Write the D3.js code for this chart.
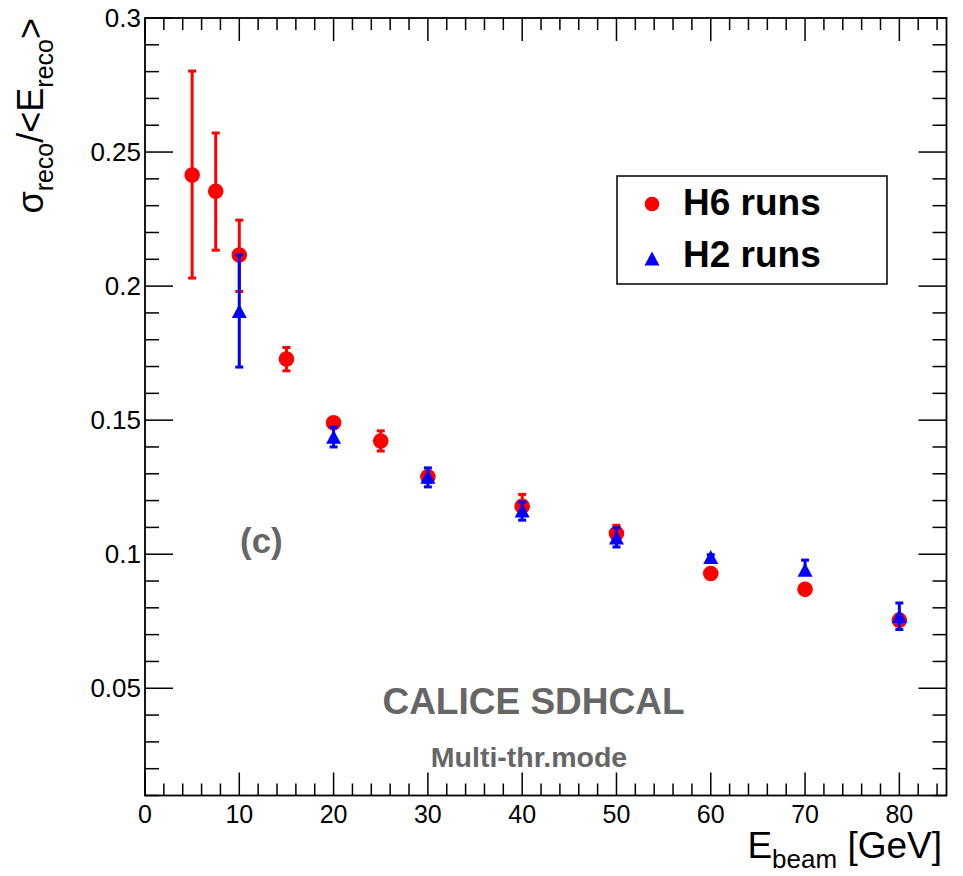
<!DOCTYPE html>
<html><head><meta charset="utf-8">
<script src="https://cdn.jsdelivr.net/npm/d3@7"></script>
<style>
html,body{margin:0;padding:0;background:#fff;}
svg{display:block;font-family:"Liberation Sans",Arial,Helvetica,sans-serif;}
</style></head>
<body>
<svg id="chart" width="963" height="876"></svg>
<script>
// ---- data ----
const h6Energy = [5, 7.5, 10, 15, 20, 25, 30, 40, 50, 60, 70, 80];
const h6Res    = [0.2414, 0.2354, 0.2116, 0.1728, 0.1490, 0.1422, 0.1289, 0.1179, 0.1077, 0.0928, 0.0869, 0.0754];
const h6ErrHi  = [0.0388, 0.0217, 0.0130, 0.0043, 0.0015, 0.0038, 0.0020, 0.0044, 0.0031, 0.0015, 0.0015, 0.0020];
const h6ErrLo  = [0.0384, 0.0220, 0.0136, 0.0044, 0.0015, 0.0037, 0.0020, 0.0020, 0.0020, 0.0015, 0.0015, 0.0020];

const h2Energy = [10, 20, 30, 40, 50, 60, 70, 80];
const h2Res    = [0.1905, 0.1436, 0.1287, 0.1161, 0.1060, 0.0988, 0.0940, 0.0768];
const h2ErrHi  = [0.0211, 0.0038, 0.0035, 0.0034, 0.0039, 0.0010, 0.0038, 0.0050];
const h2ErrLo  = [0.0207, 0.0036, 0.0036, 0.0034, 0.0033, 0.0010, 0.0015, 0.0049];

const xTicks = [0, 10, 20, 30, 40, 50, 60, 70, 80];
const yTicks = [0.05, 0.1, 0.15, 0.2, 0.25, 0.3];
const yTickLabels = ["0.05", "0.1", "0.15", "0.2", "0.25", "0.3"];

// ---- layout ----
const svg = d3.select("#chart");
const L = 145, R = 946.5, T = 18, B = 795.5;
const x = d3.scaleLinear().domain([0, 85]).range([L, R]);
const y = d3.scaleLinear().domain([0.01, 0.3]).range([B, T]);

const RED = "#ff0000", BLUE = "#0000ff", GRAY = "#666666";

// ticks
const axisG = svg.append("g").attr("stroke", "#000").attr("stroke-width", 1.5);
const xMinor = d3.range(0, 85.01, 2);
xMinor.forEach(v => {
  const major = v % 10 === 0;
  const len = major ? 23 : 12;
  axisG.append("line").attr("x1", x(v)).attr("x2", x(v)).attr("y1", B).attr("y2", B - len);
  axisG.append("line").attr("x1", x(v)).attr("x2", x(v)).attr("y1", T).attr("y2", T + len);
});
const yMinor = d3.range(1, 31).map(i => i / 100);
yMinor.forEach(v => {
  const major = Math.round(v * 100) % 5 === 0;
  const len = major ? 28 : 14;
  axisG.append("line").attr("x1", L).attr("x2", L + len).attr("y1", y(v)).attr("y2", y(v));
  axisG.append("line").attr("x1", R).attr("x2", R - len).attr("y1", y(v)).attr("y2", y(v));
});

// frame
svg.append("rect").attr("x", L).attr("y", T).attr("width", R - L).attr("height", B - T)
  .attr("fill", "none").attr("stroke", "#000").attr("stroke-width", 1.8);

// tick labels
svg.append("g").selectAll("text").data(xTicks).join("text")
  .attr("x", d => x(d)).attr("y", B + 27)
  .attr("text-anchor", "middle").attr("font-size", 25).attr("fill", "#000")
  .text(d => d);
svg.append("g").selectAll("text").data(yTicks).join("text")
  .attr("x", L - 4).attr("y", d => y(d) + 9)
  .attr("text-anchor", "end").attr("font-size", 26).attr("fill", "#000")
  .text((d, i) => yTickLabels[i]);

// axis titles
const xt = svg.append("text").attr("x", 942).attr("y", 858)
  .attr("text-anchor", "end").attr("font-size", 37).attr("fill", "#000");
xt.append("tspan").text("E");
xt.append("tspan").attr("font-size", 26).attr("dy", 10).text("beam");
xt.append("tspan").attr("dy", -10).text(" [GeV]");

const yt = svg.append("text").attr("transform", "translate(43,18) rotate(-90)")
  .attr("text-anchor", "end").attr("font-size", 36).attr("fill", "#000");
yt.append("tspan").text("σ");
yt.append("tspan").attr("font-size", 25).attr("dy", 10).text("reco");
yt.append("tspan").attr("dy", -10).text("/<E");
yt.append("tspan").attr("font-size", 25).attr("dy", 10).text("reco");
yt.append("tspan").attr("dy", -10).text(">");

// ---- series ----
function drawErrors(E, V, hi, lo, color) {
  const g = svg.append("g").attr("stroke", color).attr("stroke-width", 3);
  E.forEach((e, i) => {
    const cx = x(e), y1 = y(V[i] + hi[i]), y2 = y(V[i] - lo[i]);
    g.append("line").attr("x1", cx).attr("x2", cx).attr("y1", y1).attr("y2", y2);
    g.append("line").attr("x1", cx - 4).attr("x2", cx + 4).attr("y1", y1).attr("y2", y1);
    g.append("line").attr("x1", cx - 4).attr("x2", cx + 4).attr("y1", y2).attr("y2", y2);
  });
}
const triPath = (cx, cy) => `M${cx},${cy - 7.5}L${cx + 7.5},${cy + 6.5}L${cx - 7.5},${cy + 6.5}Z`;

drawErrors(h6Energy, h6Res, h6ErrHi, h6ErrLo, RED);
svg.append("g").selectAll("circle").data(h6Energy).join("circle")
  .attr("cx", d => x(d)).attr("cy", (d, i) => y(h6Res[i])).attr("r", 7.8).attr("fill", RED);

drawErrors(h2Energy, h2Res, h2ErrHi, h2ErrLo, BLUE);
svg.append("g").selectAll("path").data(h2Energy).join("path")
  .attr("d", (d, i) => triPath(x(d), y(h2Res[i]))).attr("fill", BLUE);

// ---- legend ----
svg.append("rect").attr("x", 617).attr("y", 176).attr("width", 270).attr("height", 108)
  .attr("fill", "#fff").attr("stroke", "#000").attr("stroke-width", 1.5);
svg.append("circle").attr("cx", 652).attr("cy", 204).attr("r", 7.3).attr("fill", RED);
svg.append("path").attr("d", triPath(652, 259)).attr("fill", BLUE);
svg.append("text").attr("x", 683).attr("y", 215).attr("font-size", 37).attr("font-weight", "bold").text("H6 runs");
svg.append("text").attr("x", 683).attr("y", 267).attr("font-size", 37).attr("font-weight", "bold").text("H2 runs");

// ---- annotations ----
svg.append("text").attr("x", 240).attr("y", 553).attr("font-size", 35).attr("font-weight", "bold")
  .attr("fill", GRAY).text("(c)");
svg.append("text").attr("x", 533.5).attr("y", 714).attr("text-anchor", "middle").attr("font-size", 37)
  .attr("font-weight", "bold").attr("fill", GRAY).text("CALICE SDHCAL");
svg.append("text").attr("x", 529).attr("y", 767).attr("text-anchor", "middle").attr("font-size", 28.5)
  .attr("font-weight", "bold").attr("fill", GRAY).text("Multi-thr.mode");
</script>
</body></html>
